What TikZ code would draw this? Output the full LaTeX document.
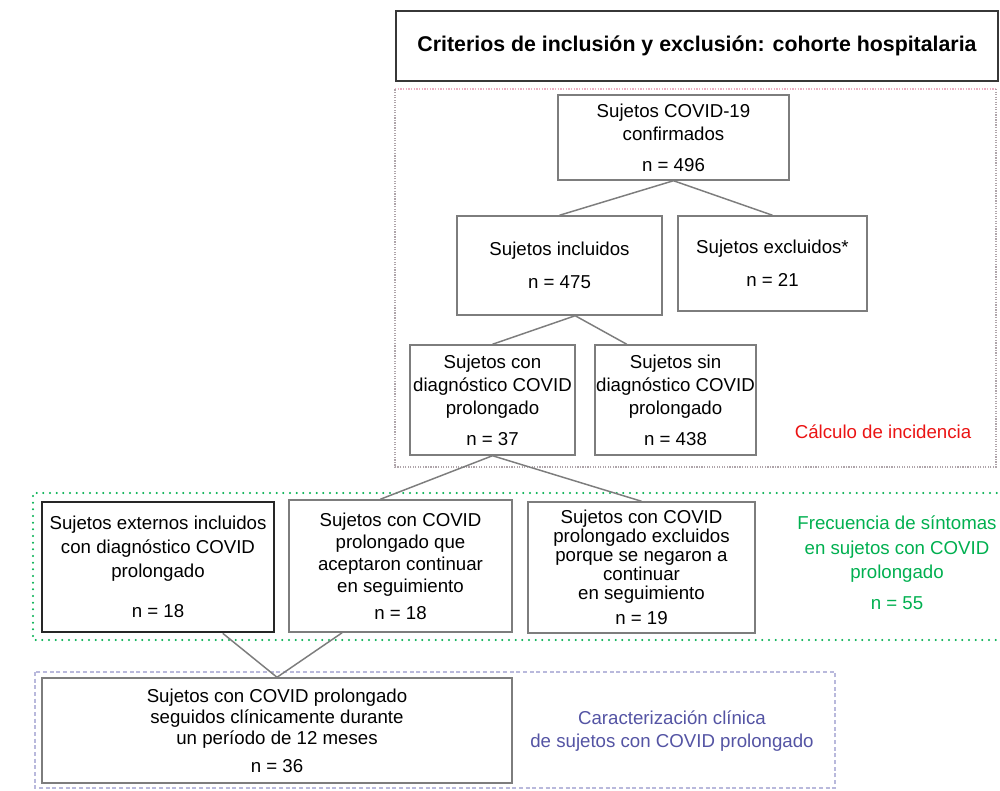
\documentclass[tikz,border=0pt]{standalone}
\usepackage{fontspec}
\setmainfont{Liberation Sans}
\usetikzlibrary{calc,shadows}
\definecolor{boxgray}{RGB}{125,125,125}
\definecolor{titlegray}{RGB}{55,55,55}
\definecolor{incred}{RGB}{235,20,20}
\definecolor{freqgreen}{RGB}{0,176,80}
\definecolor{carblue}{RGB}{84,84,164}
\definecolor{regpink}{RGB}{235,175,195}
\definecolor{reggray}{RGB}{175,165,170}
\definecolor{reglav}{RGB}{185,185,220}
\tikzset{
  box/.style={draw=boxgray, line width=1.1pt, fill=white, inner sep=0pt, align=center,
    drop shadow={shadow xshift=0.9pt, shadow yshift=-0.9pt, fill=black!30, opacity=0.5},
    font=\fontsize{14}{17.25}\selectfont},
  titlebox/.style={draw=titlegray, line width=2pt, fill=white, inner sep=0pt, align=center,
    drop shadow={shadow xshift=1pt, shadow yshift=-1pt, fill=black!30, opacity=0.5},
    font=\fontsize{16}{19}\selectfont\bfseries},
  thickbox/.style={box, draw=black!85, line width=2pt},
  conn/.style={draw=boxgray, line width=1.1pt},
  regtext/.style={align=center, inner sep=0pt, font=\fontsize{14}{17.25}\selectfont}
}
\begin{document}
\begin{tikzpicture}[x=0.75pt,y=-0.75pt]
\useasboundingbox (0,0) rectangle (1000,791);
\fill[white] (0,0) rectangle (1000,791);

% regions
\draw[regpink, line width=1pt, densely dotted] (395,89) -- (996,89);
\draw[reggray, line width=0.9pt, densely dotted] (996,89) -- (996,467) -- (395,467) -- (395,89);
\draw[freqgreen, line width=1.7pt, line cap=round, dash pattern=on 0pt off 5pt] (1010,493) -- (33,493) -- (33,640) -- (1010,640);
\draw[reglav, line width=1pt, densely dashed] (35,672) rectangle (835,788);

% title
\node[titlebox, minimum width=451.5pt, minimum height=52.5pt] (title) at (697,46) {Criterios de inclusión y exclusión: cohorte hospitalaria};

% boxes
\node[box, minimum width=173.25pt, minimum height=63.75pt] (n496) at (673.5,137.5) {Sujetos COVID-19\\confirmados\\[6pt]n = 496};
\node[box, minimum width=153.75pt, minimum height=74.25pt] (incl) at (559.5,265.5) {Sujetos incluidos\\[7.5pt]n = 475};
\node[box, minimum width=141.75pt, minimum height=71.25pt] (excl) at (772.5,263.5) {Sujetos excluidos*\\[7.5pt]n = 21};
\node[box, minimum width=123.75pt, minimum height=82.5pt] (con) at (492.5,400) {Sujetos con\\diagnóstico COVID\\prolongado\\[6pt]n = 37};
\node[box, minimum width=120.75pt, minimum height=82.5pt] (sin) at (675.5,400) {Sujetos sin\\diagnóstico COVID\\prolongado\\[6pt]n = 438};
\node[regtext, text=incred] (calc) at (883,432) {Cálculo de incidencia};

\node[thickbox, minimum width=174pt, minimum height=97.5pt, font=\fontsize{14}{18}\selectfont] (ext) at (158,567) {Sujetos externos incluidos\\con diagnóstico COVID\\prolongado\\[12pt]n = 18};
\node[box, minimum width=167.25pt, minimum height=99pt, font=\fontsize{14}{16.5}\selectfont] (acept) at (400.5,566) {Sujetos con COVID\\prolongado que\\aceptaron continuar\\en seguimiento\\[4pt]n = 18};
\node[box, minimum width=170.25pt, minimum height=98.25pt, font=\fontsize{14}{14.25}\selectfont] (excl2) at (641.5,567.5) {Sujetos con COVID\\prolongado excluidos\\porque se negaron a\\continuar\\en seguimiento\\[4.5pt]n = 19};
\node[regtext, text=freqgreen, font=\fontsize{14}{18.4}\selectfont] (freq) at (897,563) {Frecuencia de síntomas\\en sujetos con COVID\\prolongado\\[5pt]n = 55};

\node[box, minimum width=352.5pt, minimum height=78.75pt, font=\fontsize{14}{15.75}\selectfont] (fin) at (277,730.5) {Sujetos con COVID prolongado\\seguidos clínicamente durante\\un período de 12 meses\\[5pt]n = 36};
\node[regtext, text=carblue] (carac) at (672,731.5) {Caracterización clínica\\de sujetos con COVID prolongado};

% connectors
\draw[conn] (n496.south) -- (incl.north);
\draw[conn] (n496.south) -- (excl.north);
\draw[conn] ($(incl.south west)!0.576!(incl.south east)$) -- (con.north);
\draw[conn] ($(incl.south west)!0.576!(incl.south east)$) -- ($(sin.north west)!0.2!(sin.north east)$);
\draw[conn] (con.south) -- ($(acept.north west)!0.41!(acept.north east)$);
\draw[conn] (con.south) -- (excl2.north);
\draw[conn] ($(ext.south west)!0.776!(ext.south east)$) -- (fin.north);
\draw[conn] ($(acept.south west)!0.24!(acept.south east)$) -- (fin.north);
\end{tikzpicture}
\end{document}
